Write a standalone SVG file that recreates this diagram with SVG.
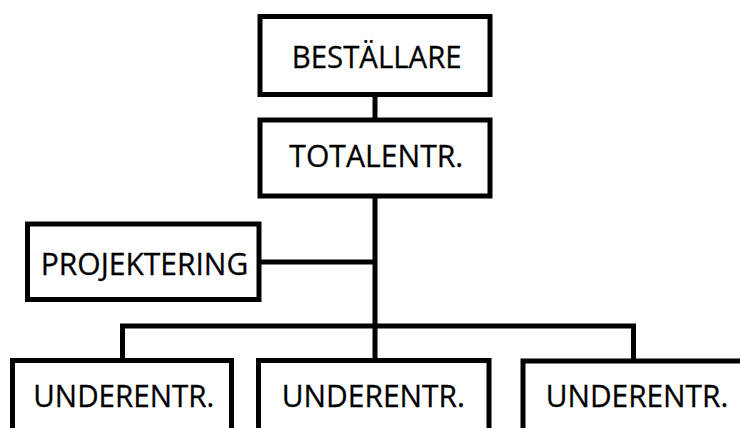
<svg xmlns="http://www.w3.org/2000/svg" width="740" height="428" viewBox="0 0 740 428">
  <style>
    .box { fill: #ffffff; stroke: #000000; stroke-width: 5; }
    .link { fill: none; stroke: #000000; stroke-width: 5; }
    .label { font-family: "Open Sans", "Lato", "Liberation Sans", sans-serif; font-size: 31px; fill: #000000; text-anchor: middle; stroke: #000000; stroke-width: 0.3; }
  </style>
  <rect width="740" height="428" fill="#ffffff"/>

  <!-- connectors -->
  <g id="connectors">
    <line class="link" x1="375" y1="94.5" x2="375" y2="120"/>
    <line class="link" x1="375" y1="196" x2="375" y2="360.5"/>
    <line class="link" x1="259" y1="262" x2="375" y2="262"/>
    <path class="link" d="M122.5 360.5 V326 H633.5 V361"/>
  </g>

  <g id="bestallare">
    <rect class="box" x="260" y="16.5" width="230" height="78"/>
    <text class="label" x="376.7" y="68.3" textLength="170" lengthAdjust="spacingAndGlyphs">BESTÄLLARE</text>
  </g>

  <g id="totalentr">
    <rect class="box" x="260" y="120" width="230" height="76"/>
    <text class="label" x="376.3" y="166.7" textLength="174" lengthAdjust="spacingAndGlyphs">TOTALENTR.</text>
  </g>

  <g id="projektering">
    <rect class="box" x="27.5" y="224" width="231.5" height="75.5"/>
    <text class="label" x="144.5" y="275" textLength="207.5" lengthAdjust="spacingAndGlyphs">PROJEKTERING</text>
  </g>

  <g id="underentr-1">
    <rect class="box" x="12.5" y="360.5" width="219" height="100"/>
    <text class="label" x="123.8" y="406.7" textLength="181" lengthAdjust="spacingAndGlyphs">UNDERENTR.</text>
  </g>

  <g id="underentr-2">
    <rect class="box" x="258.5" y="360.5" width="230.5" height="100"/>
    <text class="label" x="373.3" y="406.7" textLength="183" lengthAdjust="spacingAndGlyphs">UNDERENTR.</text>
  </g>

  <g id="underentr-3">
    <rect class="box" x="523" y="361" width="230" height="100"/>
    <text class="label" x="637" y="406.7" textLength="182.5" lengthAdjust="spacingAndGlyphs">UNDERENTR.</text>
  </g>
</svg>
